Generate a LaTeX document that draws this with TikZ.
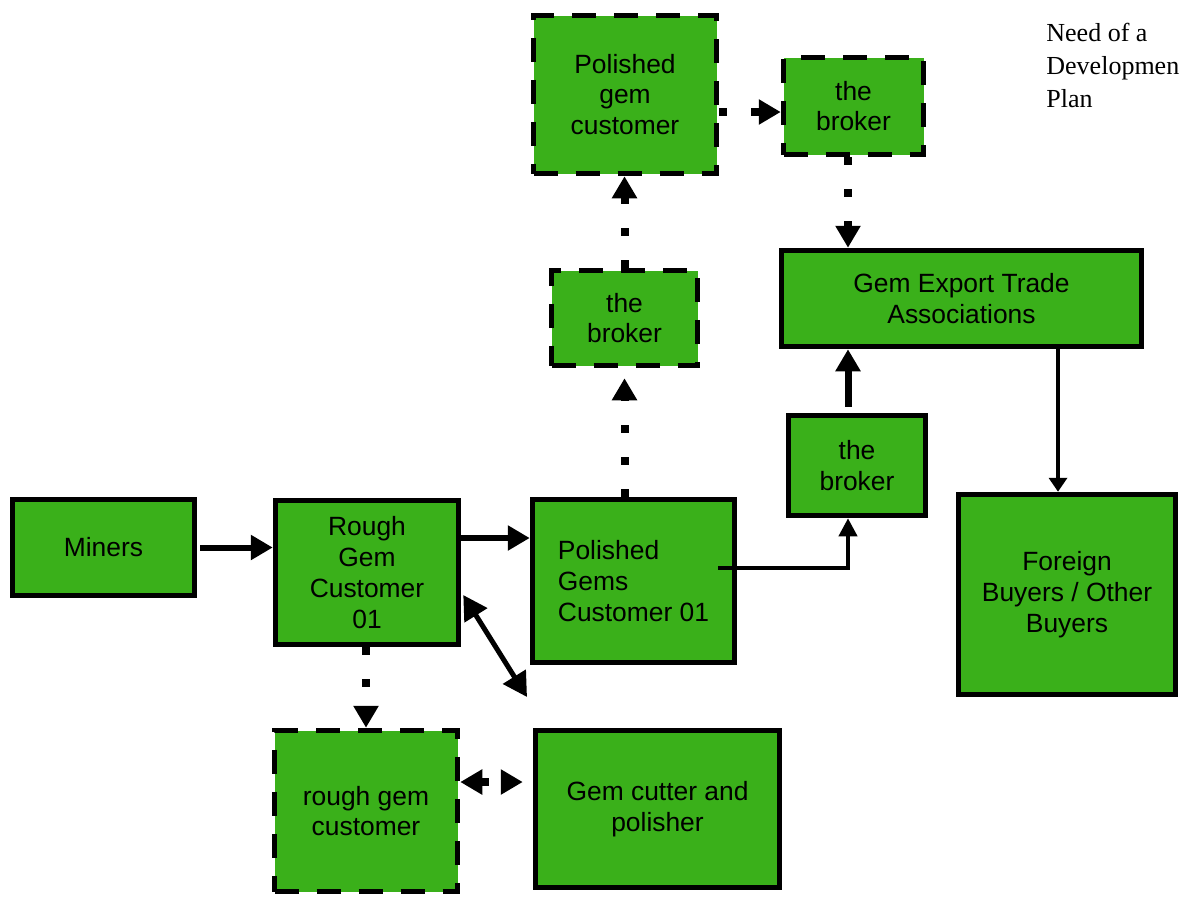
\documentclass[tikz,border=0pt]{standalone}
\usepackage{fontspec}
\setmainfont{Liberation Sans}
\newfontfamily\serifnote{Liberation Serif}
\usetikzlibrary{arrows.meta}
\definecolor{gemgreen}{RGB}{58,176,26}
\begin{document}
\begin{tikzpicture}[x=0.5pt,y=-0.5pt,
  box/.style={draw=black, fill=gemgreen, line width=2.75pt, align=center,
    font=\fontsize{13.2}{15.4}\selectfont, inner sep=0pt},
  dbox/.style={box, dash pattern=on 12pt off 9pt},
  solidarr/.style={line width=3pt, -{Triangle[width=12pt,length=11pt]}},
  thinarr/.style={line width=2pt, -{Triangle[width=9pt,length=9pt]}},
  medarr/.style={line width=2pt, -{Triangle[width=9pt,length=7pt]}},
  dblarr/.style={line width=2.5pt, {Triangle[width=13pt,length=12pt]}-{Triangle[width=13pt,length=12pt]}},
  dotarr/.style={line width=4pt, dash pattern=on 4pt off 12pt, -{Triangle[width=12pt,length=11pt]}},
  dotdbl/.style={line width=4pt, dash pattern=on 4pt off 12pt, {Triangle[width=12pt,length=11pt]}-{Triangle[width=12pt,length=11pt]}}
]
\useasboundingbox[fill=white] (0,0) rectangle (1181,896);

\node[box, minimum width=91pt, minimum height=48pt] (miners) at (103.5,547.5) {Miners};
\node[box, minimum width=91.5pt, minimum height=72pt] (rough) at (367,572.5) {Rough\\Gem\\Customer\\01};
\node[box, align=left, minimum width=101pt, minimum height=81.5pt] (polgems) at (633.5,581) {Polished\\Gems\\Customer 01};
\node[box, minimum width=122pt, minimum height=78.5pt] (cutter) at (657.5,809) {Gem cutter and\\polisher};
\node[dbox, minimum width=91.5pt, minimum height=80.5pt] (roughcust) at (366,811) {rough gem\\customer};
\node[dbox, minimum width=73pt, minimum height=47.5pt] (midbroker) at (624.5,318) {the\\broker};
\node[dbox, minimum width=91.5pt, minimum height=79pt] (polcust) at (625,94.5) {Polished\\gem\\customer};
\node[dbox, minimum width=70pt, minimum height=48.5pt] (topbroker) at (853.5,106) {the\\broker};
\node[box, minimum width=180pt, minimum height=48pt] (gemexport) at (961.5,298.5) {Gem Export Trade\\Associations};
\node[box, minimum width=68.5pt, minimum height=50pt] (broker) at (857,465.5) {the\\broker};
\node[box, minimum width=108.5pt, minimum height=100pt] (foreign) at (1067,594.5) {Foreign\\Buyers / Other\\Buyers};

\node[anchor=north west, align=left, inner sep=0pt,
  font=\serifnote\fontsize{13}{16.5}\selectfont] (note) at (1046,23) {Need of a\\Developmen\\Plan};

% connectors
\draw[solidarr] ([xshift=1.5pt]miners.east) -- (miners.east -| rough.west);
\coordinate (rp) at ([yshift=17.25pt]rough.east);
\draw[solidarr] (rp) -- (rp -| polgems.west);
\draw[dotarr, shorten >=5pt] (midbroker.south |- polgems.north) -- (midbroker.south);
\draw[dotarr] (midbroker.north) -- (midbroker.north |- polcust.south);
\coordinate (pe) at ([yshift=-8.75pt]polcust.east);
\draw[dotarr] (pe) -- (pe -| topbroker.west);
\coordinate (tb) at ([xshift=-2.75pt]topbroker.south);
\draw[dotarr] (tb) -- (tb |- gemexport.north);
\coordinate (pg) at ([xshift=-9.5pt,yshift=6.5pt]polgems.east);
\coordinate (bs) at ([xshift=-4.5pt]broker.south);
\draw[thinarr] (pg) -| (bs);
\coordinate (bn) at ([xshift=-4.5pt]broker.north);
\draw[solidarr, line width=3.5pt, shorten <=3pt] (bn) -- (bn |- gemexport.south);
\coordinate (ge) at ([xshift=48.25pt]gemexport.south);
\draw[medarr] (ge) -- (ge |- foreign.north);
\coordinate (rc) at ([xshift=1pt,yshift=-11.25pt]rough.east);
\coordinate (cutpt) at (527,697);
\draw[dblarr] (rc) -- (cutpt);
\coordinate (rs) at (roughcust.north |- rough.south);
\draw[dotarr] (rs) -- (roughcust.north);
\coordinate (rce) at ([yshift=14.5pt]roughcust.east);
\draw[dotdbl, shorten >=5pt] (rce) -- (rce -| cutter.west);
\end{tikzpicture}
\end{document}
